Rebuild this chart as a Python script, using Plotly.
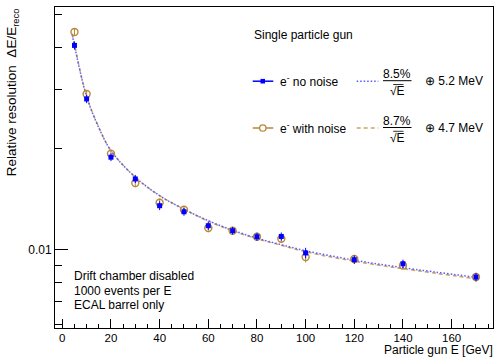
import plotly.graph_objects as go

# ---------------- data ----------------
energy = [5, 10, 20, 30, 40, 50, 60, 70, 80, 90, 100, 120, 140, 170]

res_no_noise = [0.04055, 0.02809, 0.01885, 0.01624, 0.01352, 0.01297, 0.01179,
                0.01139, 0.01093, 0.01095, 0.00978, 0.00934, 0.00908, 0.00829]
err_no_noise = [0.0011, 0.0008, 0.0005, 0.00045, 0.0004, 0.00035, 0.00033,
                0.0003, 0.0003, 0.0003, 0.00035, 0.00027, 0.00026, 0.00024]

res_with_noise = [0.04445, 0.02907, 0.01931, 0.01579, 0.01380, 0.01315, 0.01160,
                  0.01139, 0.01093, 0.01078, 0.00951, 0.00938, 0.00898, 0.00829]
err_with_noise = [0.0011, 0.0008, 0.0005, 0.00045, 0.0004, 0.00035, 0.00033,
                  0.0003, 0.0003, 0.0003, 0.00035, 0.00027, 0.00026, 0.00024]

fit_energy = [4.1, 5, 10, 15, 20, 30, 40, 50, 60, 70, 80, 90, 100, 120, 140, 170]
fit_no_noise = [0.04364, 0.04047, 0.02854, 0.02307, 0.01971, 0.01644, 0.01448,
                0.01320, 0.01220, 0.01143, 0.01082, 0.01035, 0.00993, 0.00931,
                0.00884, 0.00828]
fit_with_noise = [0.04394, 0.04075, 0.02863, 0.02315, 0.01971, 0.01644, 0.01448,
                  0.01320, 0.01216, 0.01139, 0.01078, 0.01031, 0.00986, 0.00924,
                  0.00878, 0.00820]

x_ticks = [0, 20, 40, 60, 80, 100, 120, 140, 160]
y_ticks = [0.01]
y_tick_labels = ["0.01"]
y_minor_ticks = [0.006, 0.007, 0.008, 0.009, 0.02, 0.03, 0.04, 0.05]

label_no_noise = "e<sup>-</sup> no noise"
label_with_noise = "e<sup>-</sup> with noise"
fit_no_noise_num, fit_no_noise_const = "8.5%", "\u2295 5.2 MeV"
fit_with_noise_num, fit_with_noise_const = "8.7%", "\u2295 4.7 MeV"

# ---------------- styling ----------------
FONT = "Liberation Sans, Arial, Helvetica, sans-serif"
BLUE = "#0000ff"
BLUE_FIT = "#5a5aff"
GOLD = "#b8873a"
GOLD_FIT = "#c9a468"

W, H = 497, 357
L, R, T, B = 55, 493, 7.3, 328.3


def px(x):
    return (x - L) / (R - L)


def py(y):
    return (B - y) / (B - T)


fig = go.Figure()

fig.add_trace(go.Scatter(
    x=fit_energy, y=fit_with_noise, mode="lines",
    line=dict(color=GOLD_FIT, width=1.5, dash="4px,3px", shape="spline"),
    showlegend=False, hoverinfo="skip"))
fig.add_trace(go.Scatter(
    x=fit_energy, y=fit_no_noise, mode="lines",
    line=dict(color=BLUE_FIT, width=1.5, dash="1.5px,2px", shape="spline"),
    showlegend=False, hoverinfo="skip"))

fig.add_trace(go.Scatter(
    x=energy, y=res_with_noise, mode="markers", name="with noise",
    marker=dict(symbol="circle-open", size=7, color=GOLD, line=dict(width=1.4, color=GOLD)),
    error_y=dict(type="data", array=err_with_noise, color=GOLD, thickness=1, width=0),
    showlegend=False))
fig.add_trace(go.Scatter(
    x=energy, y=res_no_noise, mode="markers", name="no noise",
    marker=dict(symbol="square", size=5, color=BLUE),
    error_y=dict(type="data", array=err_no_noise, color=BLUE, thickness=1, width=0),
    showlegend=False))

ann = []
shapes = []


def text(x, y, s, size=12, xanchor="left", yanchor="middle", angle=0, pad=1):
    ann.append(dict(x=px(x), y=py(y), xref="paper", yref="paper", text=s,
                    showarrow=False, xanchor=xanchor, yanchor=yanchor,
                    textangle=angle, borderpad=pad,
                    font=dict(family=FONT, size=size, color="black")))


def hline(x0, x1, y, color, width=1.0, dash="solid"):
    shapes.append(dict(type="line", xref="paper", yref="paper",
                       x0=px(x0), x1=px(x1), y0=py(y), y1=py(y),
                       line=dict(color=color, width=width, dash=dash)))


# legend-like box contents
text(251.5, 35, "Single particle gun")

rows = [
    (81.5, BLUE, label_no_noise, BLUE_FIT, "1.5px,2px", fit_no_noise_num, fit_no_noise_const, "sq"),
    (128.3, GOLD, label_with_noise, GOLD_FIT, "4px,3px", fit_with_noise_num, fit_with_noise_const, "ci"),
]
for yy, col, lab, fcol, fdash, num, const, mk in rows:
    hline(252.7, 273.3, yy, col, 1.5)
    if mk == "sq":
        shapes.append(dict(type="rect", xref="paper", yref="paper",
                           x0=px(260.5), x1=px(265), y0=py(yy + 2.3), y1=py(yy - 2.3),
                           fillcolor=col, line=dict(width=0)))
    else:
        shapes.append(dict(type="circle", xref="paper", yref="paper",
                           x0=px(259.6), x1=px(266), y0=py(yy + 3.2), y1=py(yy - 3.2),
                           fillcolor="white", line=dict(width=1.3, color=col)))
    text(278.3, yy, lab)
    hline(356.7, 378.3, yy, fcol, 1.5, fdash)
    text(397, yy - 7, num, xanchor="center")
    hline(383, 411.5, yy - 0.5, "black", 1)
    text(397, yy + 9.5, "\u221aE", xanchor="center")
    hline(393.2, 403.5, yy + 3.3, "black", 0.8)
    text(422.7, yy, const)

# info text bottom-left
text(71.5, 276.7, "Drift chamber disabled")
text(71.5, 291, "1000 events per E")
text(71.5, 305, "ECAL barrel only")

# axis titles
text(494, 350.5, "Particle gun E [GeV]", xanchor="right", yanchor="middle", pad=0)
text(12.5, 7, "Relative resolution  \u0394E/E<sub>reco</sub>", size=13.5,
     xanchor="center", yanchor="top", angle=-90)

fig.update_layout(
    width=W, height=H,
    margin=dict(l=L, r=W - R, t=T, b=H - B, pad=0),
    paper_bgcolor="white", plot_bgcolor="white",
    showlegend=False, hovermode=False,
    annotations=ann, shapes=shapes,
    font=dict(family=FONT, size=12, color="black"),
    xaxis=dict(
        range=[-3, 177], tickmode="array", tickvals=x_ticks,
        ticks="inside", ticklen=9, tickwidth=1, tickcolor="black",
        ticklabelstandoff=-1,
        minor=dict(tickmode="linear", tick0=0, dtick=5, ticks="inside",
                   ticklen=4.5, tickwidth=1, tickcolor="black", showgrid=False),
        showline=True, linecolor="black", linewidth=1, mirror=True,
        showgrid=False, zeroline=False,
        tickfont=dict(family=FONT, size=11.5, color="black"),
    ),
    yaxis=dict(
        type="log", range=[-2.233, -1.2777],
        tickmode="array", tickvals=y_ticks, ticktext=y_tick_labels,
        ticks="inside", ticklen=13, tickwidth=1, tickcolor="black",
        minor=dict(tickmode="array", tickvals=y_minor_ticks, ticks="inside",
                   ticklen=7, tickwidth=1, tickcolor="black", showgrid=False),
        showline=True, linecolor="black", linewidth=1, mirror=True,
        showgrid=False, zeroline=False,
        tickfont=dict(family=FONT, size=12, color="black"),
    ),
)

fig.write_html(
    "out.html",
    config={"displayModeBar": False},
    post_script="document.body.style.margin='0px';document.body.style.padding='0px';",
)
